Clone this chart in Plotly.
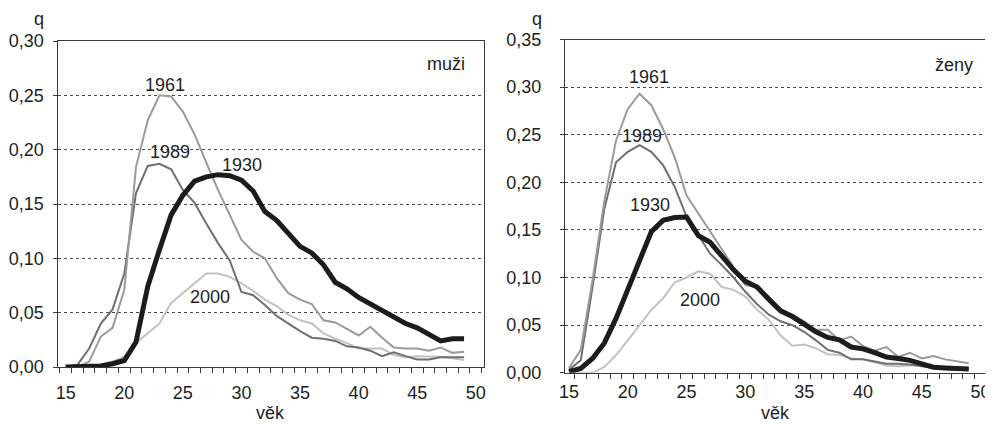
import plotly.graph_objects as go

ages = [15, 16, 17, 18, 19, 20, 21, 22, 23, 24, 25, 26, 27, 28, 29, 30, 31, 32,
        33, 34, 35, 36, 37, 38, 39, 40, 41, 42, 43, 44, 45, 46, 47, 48, 49]

# muži (men)
m1930 = [0, 0, 0, 0.001, 0.003, 0.006, 0.023, 0.074, 0.108, 0.140, 0.158, 0.171, 0.175, 0.177,
         0.176, 0.172, 0.162, 0.143, 0.135, 0.123, 0.111, 0.105, 0.094, 0.078, 0.072, 0.064,
         0.058, 0.052, 0.045, 0.040, 0.036, 0.030, 0.024, 0.026, 0.026]
m1961 = [0, 0, 0.005, 0.028, 0.036, 0.071, 0.184, 0.227, 0.250, 0.249, 0.235, 0.214, 0.188, 0.163,
         0.140, 0.117, 0.106, 0.100, 0.082, 0.068, 0.062, 0.058, 0.043, 0.041, 0.035, 0.029,
         0.037, 0.027, 0.018, 0.017, 0.017, 0.015, 0.018, 0.013, 0.014]
m1989 = [0, 0.002, 0.017, 0.040, 0.053, 0.086, 0.160, 0.185, 0.187, 0.182, 0.163, 0.151, 0.132,
         0.114, 0.098, 0.069, 0.066, 0.057, 0.047, 0.040, 0.033, 0.027, 0.026, 0.024, 0.019,
         0.018, 0.015, 0.010, 0.0135, 0.010, 0.007, 0.007, 0.009, 0.009, 0.009]
m2000 = [0, 0, 0.001, 0.002, 0.005, 0.0095, 0.022, 0.031, 0.040, 0.059, 0.068, 0.077, 0.086,
         0.086, 0.083, 0.077, 0.070, 0.062, 0.056, 0.048, 0.043, 0.040, 0.031, 0.026, 0.022,
         0.017, 0.017, 0.017, 0.011, 0.009, 0.010, 0.0095, 0.0095, 0.008, 0.0065]

# ženy (women)
z1930 = [0.001, 0.0045, 0.015, 0.031, 0.057, 0.087, 0.118, 0.148, 0.160, 0.163, 0.1635, 0.144,
         0.137, 0.122, 0.108, 0.096, 0.090, 0.077, 0.065, 0.059, 0.051, 0.043, 0.037, 0.0345,
         0.027, 0.025, 0.021, 0.0165, 0.015, 0.013, 0.0093, 0.0057, 0.005, 0.0043, 0.004]
z1961 = [0.005, 0.024, 0.097, 0.180, 0.244, 0.277, 0.293, 0.281, 0.256, 0.226, 0.186, 0.167,
         0.149, 0.130, 0.111, 0.092, 0.090, 0.080, 0.066, 0.061, 0.054, 0.045, 0.045, 0.034,
         0.038, 0.028, 0.023, 0.027, 0.0165, 0.021, 0.015, 0.0176, 0.014, 0.012, 0.010]
z1989 = [0.003, 0.013, 0.090, 0.172, 0.221, 0.232, 0.239, 0.232, 0.218, 0.195, 0.164, 0.145,
         0.125, 0.113, 0.100, 0.085, 0.072, 0.061, 0.054, 0.050, 0.043, 0.034, 0.024, 0.021,
         0.014, 0.014, 0.012, 0.0093, 0.0093, 0.0086, 0.0068, 0.005, 0.005, 0.0043, 0.0043]
z2000 = [0, 0, 0, 0.006, 0.0185, 0.034, 0.050, 0.066, 0.078, 0.095, 0.100, 0.1065, 0.104,
         0.090, 0.087, 0.080, 0.066, 0.0554, 0.039, 0.0284, 0.0295, 0.0255, 0.0194, 0.0187,
         0.015, 0.014, 0.011, 0.0075, 0.0068, 0.0075, 0.008, 0.005, 0.0036, 0.003, 0.003]

series_names = ["2000", "1989", "1961", "1930"]
colors = {"1930": "#1c1c1c", "1961": "#9a9a9a", "1989": "#6f6f6f", "2000": "#c2c2c2"}
widths = {"1930": 5, "1961": 2, "1989": 2, "2000": 2}

men = {"1930": m1930, "1961": m1961, "1989": m1989, "2000": m2000}
women = {"1930": z1930, "1961": z1961, "1989": z1989, "2000": z2000}

FONT = "Liberation Sans, Arial, sans-serif"
FS = 18
TXT = "#1e1e1e"
AX = "#3a3a3a"

# the page body adds an 8px offset; the figure fills the rest of the window
W, H, OFF = 985, 416, 8


def fx(px):
    return (px - OFF) / W


def fy(py):
    return (424 - py) / H


fig = go.Figure()
for name in series_names:
    fig.add_trace(go.Scatter(x=ages, y=men[name], mode="lines", name=name,
                             line=dict(color=colors[name], width=widths[name]),
                             xaxis="x", yaxis="y", showlegend=False))
for name in series_names:
    fig.add_trace(go.Scatter(x=ages, y=women[name], mode="lines", name=name,
                             line=dict(color=colors[name], width=widths[name]),
                             xaxis="x2", yaxis="y2", showlegend=False))

xcommon = dict(tickmode="array", tickvals=[15, 20, 25, 30, 35, 40, 45, 50],
               ticks="", showgrid=False, zeroline=False, showline=True,
               linecolor=AX, linewidth=1, mirror=True, automargin=False,
               tickfont=dict(family=FONT, size=FS, color=TXT),
               minor=dict(tick0=14.5, dtick=1, ticks="outside", ticklen=5,
                          tickcolor=AX, tickwidth=1, showgrid=False))
ycommon = dict(dtick=0.05, tickformat=".2f", ticks="outside", ticklen=4,
               tickcolor=AX, showgrid=True, gridcolor="#4a4a4a", gridwidth=1,
               griddash="3px,3px", zeroline=False, showline=True, linecolor=AX,
               linewidth=1, mirror=True, automargin=False,
               tickfont=dict(family=FONT, size=FS, color=TXT))

fig.update_layout(
    width=W, height=H,
    margin=dict(l=0, r=0, t=0, b=0, autoexpand=False),
    paper_bgcolor="white", plot_bgcolor="white",
    separators=", ",
    xaxis=dict(xcommon, domain=[fx(57.5), fx(484)], range=[14.3, 50.7], anchor="y",
               ticklabelstandoff=9),
    yaxis=dict(ycommon, domain=[fy(367), fy(41)], range=[0, 0.30], anchor="x",
               ticklabelstandoff=5),
    xaxis2=dict(xcommon, domain=[fx(565), fx(987)], range=[14.66, 50.55], anchor="y2",
                ticklabelstandoff=3),
    yaxis2=dict(ycommon, domain=[fy(372.7), fy(39.5)], range=[0, 0.35], anchor="x2",
                ticklabelstandoff=15),
)

ann_font = dict(family=FONT, size=FS, color=TXT)
anns = [
    dict(text="1961", x=23.47, y=0.2597, xref="x", yref="y"),
    dict(text="1989", x=23.9, y=0.198, xref="x", yref="y"),
    dict(text="1930", x=30.05, y=0.186, xref="x", yref="y"),
    dict(text="2000", x=27.3, y=0.0645, xref="x", yref="y"),
    dict(text="1961", x=21.79, y=0.3105, xref="x2", yref="y2"),
    dict(text="1989", x=21.2, y=0.249, xref="x2", yref="y2"),
    dict(text="1930", x=21.92, y=0.1763, xref="x2", yref="y2"),
    dict(text="2000", x=26.12, y=0.0767, xref="x2", yref="y2"),
]
for a in anns:
    fig.add_annotation(showarrow=False, font=ann_font, xanchor="center", yanchor="middle", **a)

fig.add_annotation(text="muži", x=0.96, y=0.929, xref="x domain", yref="y domain",
                   xanchor="right", yanchor="middle", showarrow=False, font=ann_font)
fig.add_annotation(text="ženy", x=0.9716, y=0.923, xref="x2 domain", yref="y2 domain",
                   xanchor="right", yanchor="middle", showarrow=False, font=ann_font)
for px in (39, 537):
    fig.add_annotation(text="q", x=fx(px), y=fy(19), xref="paper", yref="paper",
                       xanchor="center", yanchor="middle", showarrow=False, font=ann_font)
for px in (270, 775):
    fig.add_annotation(text="věk", x=fx(px), y=fy(413), xref="paper", yref="paper",
                       xanchor="center", yanchor="middle", showarrow=False, font=ann_font)

fig.write_html("out.html")
